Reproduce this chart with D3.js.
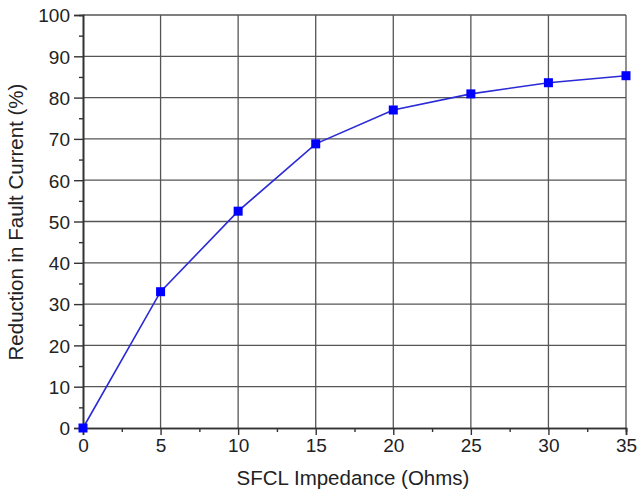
<!DOCTYPE html>
<html><head><meta charset="utf-8">
<script src="https://cdn.jsdelivr.net/npm/d3@7"></script>
<style>body{margin:0;background:#fff}svg{display:block}</style>
</head><body>
<script>
const impedance = [0, 5, 10, 15, 20, 25, 30, 35];
const reduction = [0, 33.0, 52.5, 68.8, 77.0, 80.9, 83.6, 85.3];
const xTicks = [0, 5, 10, 15, 20, 25, 30, 35];
const yTicks = [0, 10, 20, 30, 40, 50, 60, 70, 80, 90, 100];
const xMinor = [2.5, 7.5, 12.5, 17.5, 22.5, 27.5, 32.5];
const yMinor = [5, 15, 25, 35, 45, 55, 65, 75, 85, 95];

const W = 639, H = 491;
const svg = d3.select("body").append("svg").attr("width", W).attr("height", H);
const x = d3.scaleLinear().domain([0, 35]).range([83, 626]);
const y = d3.scaleLinear().domain([0, 100]).range([428, 15]);
const font = "'Liberation Sans', Arial, sans-serif";
const gridC = "#555";

// grid
svg.append("g").selectAll("line").data(xTicks.slice(1)).join("line")
  .attr("x1", d => x(d)).attr("x2", d => x(d)).attr("y1", y(0)).attr("y2", y(100))
  .attr("stroke", gridC).attr("stroke-width", 1.3);
svg.append("g").selectAll("line").data(yTicks.slice(1)).join("line")
  .attr("x1", x(0)).attr("x2", x(35)).attr("y1", d => y(d)).attr("y2", d => y(d))
  .attr("stroke", gridC).attr("stroke-width", 1.3);

// axes
const xAxis = svg.append("g").attr("transform", `translate(0,${y(0)})`)
  .call(d3.axisBottom(x).tickValues(xTicks).tickSize(7).tickPadding(4).tickFormat(d3.format("d")));
const xAxisMinor = svg.append("g").attr("transform", `translate(0,${y(0)})`)
  .call(d3.axisBottom(x).tickValues(xMinor).tickSize(4).tickFormat(""));
const yAxis = svg.append("g").attr("transform", `translate(${x(0)},0)`)
  .call(d3.axisLeft(y).tickValues(yTicks).tickSize(9).tickPadding(4).tickFormat(d3.format("d")));
const yAxisMinor = svg.append("g").attr("transform", `translate(${x(0)},0)`)
  .call(d3.axisLeft(y).tickValues(yMinor).tickSize(4).tickFormat(""));
[xAxis, xAxisMinor, yAxis, yAxisMinor].forEach(g => {
  g.selectAll("path.domain").attr("stroke", "#333").attr("stroke-width", 1.6);
  g.selectAll(".tick line").attr("stroke", "#333").attr("stroke-width", 1.4);
  g.selectAll("text").attr("font-family", font).attr("font-size", 19).attr("fill", "#222");
});
yAxis.selectAll("text").attr("dy", "0.36em");

// line
svg.append("path").datum(impedance.map((d, i) => [d, reduction[i]]))
  .attr("fill", "none").attr("stroke", "#2a2ad6").attr("stroke-width", 1.6)
  .attr("d", d3.line().x(d => x(d[0])).y(d => y(d[1])));
svg.append("g").selectAll("rect").data(impedance.map((d, i) => [d, reduction[i]])).join("rect")
  .attr("x", d => x(d[0]) - 4.5).attr("y", d => y(d[1]) - 4.5)
  .attr("width", 9).attr("height", 9).attr("fill", "#0000ff");

// titles
svg.append("text").attr("x", 353).attr("y", 485).attr("text-anchor", "middle")
  .attr("font-family", font).attr("font-size", 20.5).attr("fill", "#222")
  .text("SFCL Impedance (Ohms)");
svg.append("text").attr("transform", `translate(23,222) rotate(-90)`).attr("text-anchor", "middle")
  .attr("font-family", font).attr("font-size", 20.5).attr("fill", "#222")
  .text("Reduction in Fault Current (%)");
</script>
</body></html>
